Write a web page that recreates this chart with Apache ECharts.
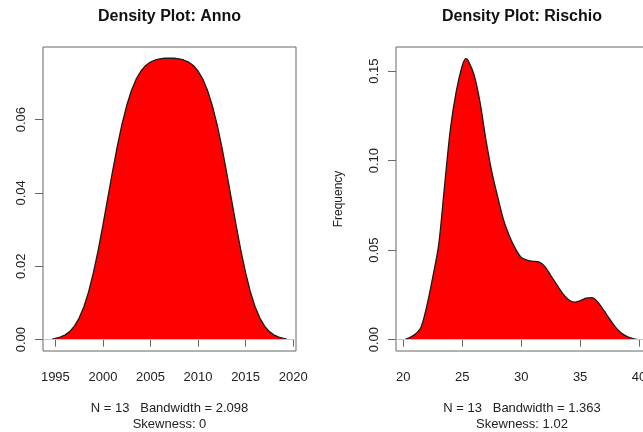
<!DOCTYPE html>
<html>
<head>
<meta charset="utf-8">
<script src="https://cdn.jsdelivr.net/npm/echarts@6/dist/echarts.min.js"></script>
<style>
html,body{margin:0;padding:0;background:#fff;}
#c{width:643px;height:432px;}
</style>
</head>
<body>
<div id="c"></div>
<script>
// Left panel: Anno density (x = year, y = density)
var annoX = [1994.7,1995,1995.5,1996,1996.5,1997,1997.5,1998,1998.5,1999,1999.5,2000,2000.5,2001,2001.5,2002,2002.5,2003,2003.5,2004,2004.5,2005,2005.5,2006,2006.5,2007,
             2007.5,2008,2008.5,2009,2009.5,2010,2010.5,2011,2011.5,2012,2012.5,2013,2013.5,2014,2014.5,2015,2015.5,2016,2016.5,2017,2017.5,2018,2018.5,2019,2019.3];
var annoY = [0.00022,0.00034,0.00066,0.00123,0.00218,0.00367,0.00587,0.00898,0.01309,0.01825,0.02437,0.03122,0.03846,0.04571,0.05255,0.05867,0.06383,0.06795,0.07105,0.07326,0.07475,0.07569,0.07626,0.07657,0.07673,0.07677,
             0.07673,0.07657,0.07626,0.07569,0.07475,0.07326,0.07105,0.06795,0.06383,0.05867,0.05255,0.04571,0.03846,0.03122,0.02437,0.01825,0.01309,0.00898,0.00587,0.00367,0.00218,0.00123,0.00066,0.00034,0.00022];
var annoXTicks = [1995,2000,2005,2010,2015,2020];
var annoYTicks = [0,0.02,0.04,0.06];

// Right panel: Rischio density
var rischioX = [20.15,20.5,21,21.5,22,22.5,23,23.5,24,24.5,25,25.3,25.5,26,26.5,27,27.5,28,28.5,29,29.5,30,30.5,31,31.5,32,32.5,33,33.5,34,34.5,35,35.5,36,36.5,37,37.5,38,38.5,39,39.5,39.9];
var rischioY = [0.0002,0.001,0.003,0.007,0.019,0.035,0.053,0.086,0.118,0.139,0.153,0.157,0.156,0.148,0.133,0.112,0.094,0.080,0.067,0.058,0.051,0.046,0.0445,0.0438,0.0435,0.041,0.036,0.031,0.026,0.0225,0.021,0.0218,0.0232,0.0235,0.021,0.0165,0.0116,0.007,0.0037,0.0017,0.0006,0.0001];
var rischioXTicks = [20,25,30,35,40];
var rischioYTicks = [0,0.05,0.10,0.15];

var titles = ['Density Plot: Anno','Density Plot: Rischio'];
var notes = ['N = 13   Bandwidth = 2.098\nSkewness: 0','N = 13   Bandwidth = 1.363\nSkewness: 1.02'];
var yName = 'Frequency';

function zip(a,b){var r=[];for(var i=0;i<a.length;i++)r.push([a[i],b[i]]);return r;}

var FONT = 'Liberation Sans, Arial, sans-serif';
var TXT = '#222';
var AX = '#666';

var grids = [
  {left:43, top:47, width:253, height:304},
  {left:396, top:47, width:252, height:304}
];

function xAxisCfg(gi,min,max,ticks){
  return {type:'value', gridIndex:gi, min:min, max:max,
    axisLine:{show:false}, splitLine:{show:false},
    axisTick:{show:true, inside:false, length:7, customValues:ticks, lineStyle:{color:AX}},
    axisLabel:{show:true, customValues:ticks, margin:20, color:TXT, fontSize:13, fontFamily:FONT,
      hideOverlap:false, formatter:function(v){return String(v);}}
  };
}
function yAxisCfg(gi,min,max,ticks,name){
  var c = {type:'value', gridIndex:gi, min:min, max:max,
    axisLine:{show:false}, splitLine:{show:false},
    axisTick:{show:true, inside:false, length:8, customValues:ticks, lineStyle:{color:AX}},
    axisLabel:{show:true, customValues:ticks, rotate:90, margin:15, color:TXT, fontSize:13, fontFamily:FONT,
      formatter:function(v){return v.toFixed(2);}}
  };
  if(name){
    c.name = name; c.nameLocation='middle'; c.nameRotate=90; c.nameGap=51;
    c.nameTextStyle={color:TXT, fontSize:12, fontFamily:FONT};
  }
  return c;
}
function seriesCfg(gi,data,smooth){
  return {type:'line', xAxisIndex:gi, yAxisIndex:gi, data:data, showSymbol:false, symbol:'none',
    smooth:smooth, silent:true, animation:false,
    lineStyle:{color:'#1a1a1a', width:1.3},
    areaStyle:{color:'#ff0000', opacity:1},
    markLine:{silent:true, symbol:'none', label:{show:false}, animation:false,
      lineStyle:{color:'#c8c8c8', width:1, type:'solid'}, data:[{yAxis:0}]},
    z:2
  };
}

var option = {
  backgroundColor:'#fff',
  animation:false,
  title: titles.map(function(t,i){
    var g = grids[i];
    return {text:t, left:g.left+g.width/2, top:9, textAlign:'center', padding:0,
      textStyle:{fontSize:16, fontWeight:'bold', color:'#111', fontFamily:FONT}};
  }),
  grid: grids.map(function(g){
    return {left:g.left, top:g.top, width:g.width, height:g.height, show:true,
      borderColor:AX, borderWidth:1, backgroundColor:'transparent', containLabel:false,
      outerBoundsMode:'none'};
  }),
  xAxis:[xAxisCfg(0,1993.7,2020.3,annoXTicks), xAxisCfg(1,19.38,40.76,rischioXTicks)],
  yAxis:[yAxisCfg(0,-0.0031,0.0798,annoYTicks,null), yAxisCfg(1,-0.0063,0.1635,rischioYTicks,yName)],
  series:[seriesCfg(0,zip(annoX,annoY),false), seriesCfg(1,zip(rischioX,rischioY),0.3)],
  graphic: notes.map(function(n,i){
    var g = grids[i];
    return {type:'text', x:g.left+g.width/2, y:401, silent:true,
      style:{text:n, fill:TXT, font:'13px '+FONT, textAlign:'center', textVerticalAlign:'top', lineHeight:15.5}};
  })
};

var chart = echarts.init(document.getElementById('c'), null, {renderer:'canvas'});
chart.setOption(option);
</script>
</body>
</html>
